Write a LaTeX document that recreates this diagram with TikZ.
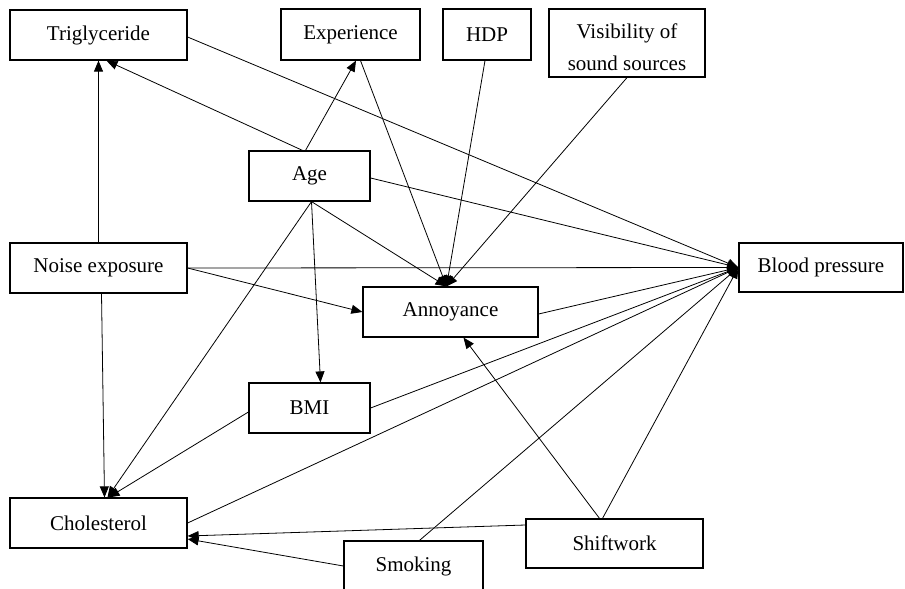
\documentclass[tikz,border=0pt]{standalone}
\usepackage{fontspec}
\setmainfont{Liberation Serif}
\usetikzlibrary{arrows.meta}
\tikzset{
box/.style = {rectangle,draw=black,line width=1.2pt,inner sep=0pt,align=center,font=\fontsize{21}{23}\selectfont}
}
\begin{document}
\begin{tikzpicture}[x=1pt,y=-1pt,line width=0.8pt,>={Triangle[length=11pt,width=9pt]}]
\useasboundingbox (0,0) rectangle (905,589);
\clip (0,0) rectangle (905,589);
\node[box,minimum width=177pt,minimum height=50pt] (Tri) at(98.5,35) {Triglyceride};
\node[box,minimum width=139pt,minimum height=51pt] (Exp) at(350.5,34.5) {Experience};
\node[box,minimum width=88pt,minimum height=51pt] (HDP) at(487,34.5) {HDP};
\node[box,minimum width=156pt,minimum height=68pt,font=\fontsize{21}{32}\selectfont,text height=55pt] (Vis) at(627,43) {Visibility of\\sound sources};
\node[box,minimum width=121pt,minimum height=50pt] (Age) at(309.5,176) {Age};
\node[box,minimum width=177pt,minimum height=50pt] (Noise) at(98.5,268) {Noise exposure};
\node[box,minimum width=164pt,minimum height=49pt] (BP) at(821,267.5) {Blood pressure};
\node[box,minimum width=175pt,minimum height=50pt] (Ann) at(450.5,312) {Annoyance};
\node[box,minimum width=121pt,minimum height=50pt] (BMI) at(309.5,408) {BMI};
\node[box,minimum width=177pt,minimum height=50pt] (Chol) at(98.5,523) {Cholesterol};
\node[box,minimum width=139pt,minimum height=50pt] (Smok) at(413.5,566) {Smoking};
\node[box,minimum width=177pt,minimum height=49pt] (Shift) at(614.5,543.5) {Shiftwork};
\draw[->] (Noise) -- (Tri);
\draw[->] ([xshift=-7pt]Age.north) -- ([xshift=8pt]Tri.south);
\draw[->] ([xshift=-4pt]Age.north) -- ([xshift=5.5pt]Exp.south);
\draw[->] ([yshift=-2pt]Tri.east) -- (BP.west);
\draw[->] ([xshift=10pt]Exp.south) -- ([xshift=-4pt]Ann.north);
\draw[->] ([xshift=-2pt]HDP.south) -- ([xshift=-4pt]Ann.north);
\draw[->] (Vis.south) -- ([xshift=-4pt]Ann.north);
\draw[->] ([xshift=2pt]Age.south) -- ([xshift=-4pt]Ann.north);
\draw[->] ([yshift=-2pt]Age.east) -- (BP.west);
\draw[->] ([xshift=2pt]Age.south) -- ([xshift=11pt]BMI.north);
\draw[->] ([xshift=2pt]Age.south) -- ([xshift=9pt]Chol.north);
\draw[->] (Noise.east) -- (BP.west);
\draw[->] (Noise.east) -- (Ann.west);
\draw[->] ([xshift=3pt]Noise.south) -- ([xshift=6pt]Chol.north);
\draw[->] ([yshift=-2pt]Ann.east) -- (BP.west);
\draw[->] (BMI.east) -- (BP.west);
\draw[->] ([yshift=-4pt]BMI.west) -- ([xshift=10pt]Chol.north);
\draw[->] (Chol.east) -- (BP.west);
\draw[->] ([yshift=18.5pt]Shift.west) -- ([yshift=-13pt]Chol.east);
\draw[->] (Smok.west) -- ([yshift=-16pt]Chol.east);
\draw[->] ([xshift=6pt]Smok.north) -- (BP.west);
\draw[->] ([xshift=-15pt]Shift.north) -- ([xshift=13pt]Ann.south);
\draw[->] ([xshift=-12pt]Shift.north) -- (BP.west);
\end{tikzpicture}
\end{document}
